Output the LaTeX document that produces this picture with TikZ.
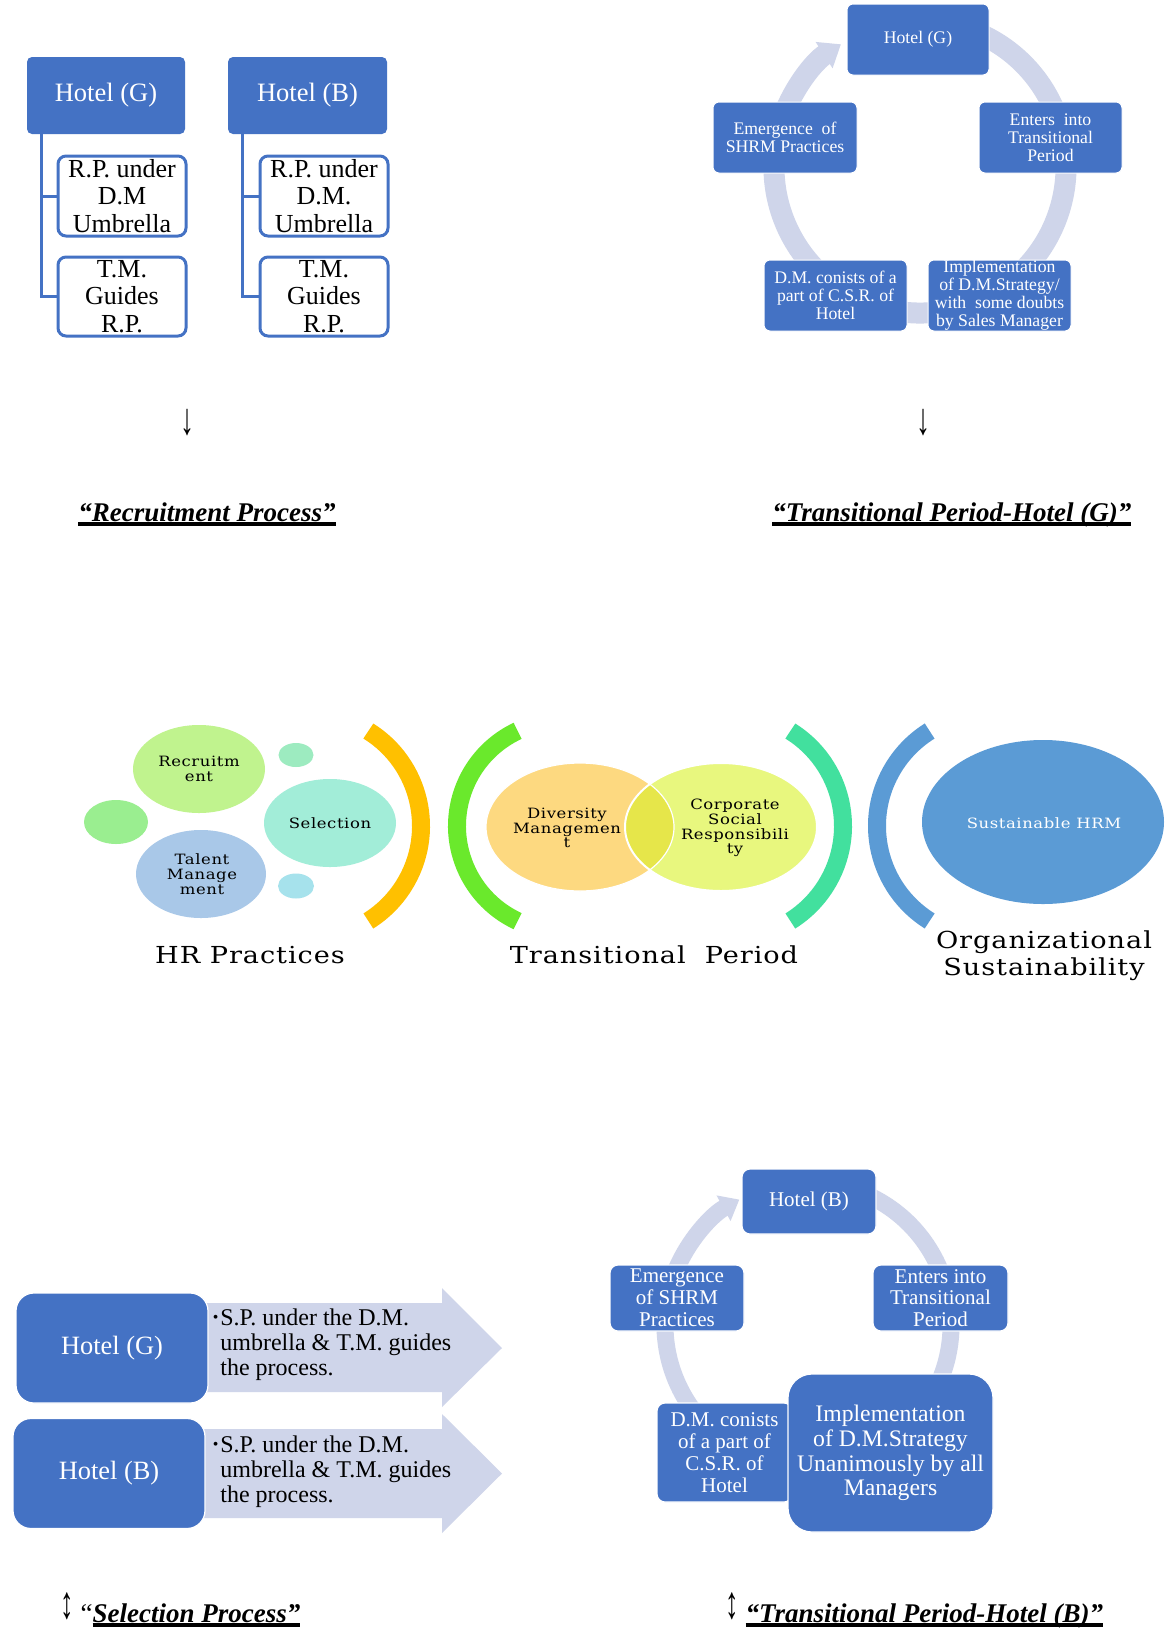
\documentclass[tikz,border=0pt]{standalone}
\usepackage{fontspec}
\setmainfont{Liberation Serif}
\newfontfamily\dvs[FakeStretch=1.16, LetterSpace=4]{DejaVu Serif}
\usetikzlibrary{arrows.meta,calc}
\definecolor{hblue}{HTML}{4472C4}
\definecolor{ringc}{HTML}{CFD5EA}
\definecolor{recc}{HTML}{C0F38E}
\definecolor{smtop}{HTML}{9DEBC0}
\definecolor{smleft}{HTML}{9AEE90}
\definecolor{selc}{HTML}{A2EDD8}
\definecolor{talc}{HTML}{A9C8E8}
\definecolor{smbot}{HTML}{A6E2EC}
\definecolor{orangec}{HTML}{FFC000}
\definecolor{greenc}{HTML}{6AE92C}
\definecolor{divc}{HTML}{FDD980}
\definecolor{csrc}{HTML}{E8F77E}
\definecolor{ovc}{HTML}{E6E64A}
\definecolor{tealc}{HTML}{42E09E}
\definecolor{sblue}{HTML}{5B9BD5}
\newcommand\myul[1]{\setbox0\hbox{#1}\rlap{\rule[-2.3pt]{\wd0}{1.75pt}}\box0}
\tikzset{
  hbox/.style={fill=hblue, rounded corners=2.5pt, text=white, inner sep=0pt, align=center},
  subbox/.style={draw=hblue, line width=1.5pt, fill=white, rounded corners=4pt, inner sep=0pt, align=center,
     minimum width=64pt, font=\fontsize{13pt}{13.75pt}\selectfont},
  cboxg/.style={fill=hblue, draw=white, line width=0.5pt, rounded corners=3pt, text=white, inner sep=0pt,
     align=center, font=\fontsize{8.85pt}{9pt}\selectfont},
  cboxb/.style={fill=hblue, draw=white, line width=0.6pt, rounded corners=4pt, text=white, inner sep=0pt,
     align=center, font=\fontsize{10.5pt}{10.9pt}\selectfont},
  selbox/.style={fill=hblue, draw=white, line width=0.6pt, rounded corners=9pt, text=white, inner sep=0pt,
     minimum width=96pt, minimum height=55pt, font=\fontsize{13.2pt}{14pt}\selectfont},
  seltxt/.style={anchor=north west, align=left, inner sep=0pt, font=\fontsize{12pt}{12.5pt}\selectfont},
  mtxt/.style={align=center, inner sep=0pt, font=\dvs\fontsize{7.1pt}{7.4pt}\selectfont},
  btxt/.style={align=center, inner sep=0pt, font=\dvs\fontsize{11.7pt}{13.5pt}\selectfont},
  lbl/.style={inner sep=0pt, font=\fontsize{13.5pt}{14pt}\selectfont\bfseries\itshape},
  bracket/.style={line width=9pt},
  conn/.style={draw=hblue, line width=1.5pt},
}
\begin{document}
\begin{tikzpicture}[x=0.5pt,y=-0.5pt]
\useasboundingbox (0,0) rectangle (1165,1629);
\fill[white] (0,0) rectangle (1165,1629);

% ---------- Recruitment process (top left)
\node[hbox, minimum width=79pt, minimum height=38.5pt, font=\fontsize{13.25pt}{14pt}\selectfont] (hg) at (106,95.5) {Hotel (G)};
\node[hbox, minimum width=79.5pt, minimum height=38.5pt, font=\fontsize{13.25pt}{14pt}\selectfont] (hb) at (307.5,95.5) {Hotel (B)};
\node[subbox, minimum height=40pt] (rpg) at (122,196) {R.P. under\\D.M\\Umbrella};
\node[subbox, minimum height=39.5pt] (tmg) at (122,296.5) {T.M.\\Guides\\R.P.};
\node[subbox, minimum height=40pt] (rpb) at (324,196) {R.P. under\\D.M.\\Umbrella};
\node[subbox, minimum height=39.5pt] (tmb) at (324,296.5) {T.M.\\Guides\\R.P.};
\draw[conn] ($(hg.south west)+(15,0)$) |- (rpg.west);
\draw[conn] ($(hg.south west)+(15,0)$) |- (tmg.west);
\draw[conn] ($(hb.south west)+(15,0)$) |- (rpb.west);
\draw[conn] ($(hb.south west)+(15,0)$) |- (tmb.west);

% ---------- Transitional period Hotel (G) (top right)
\draw[ringc, line width=10.5pt, -{Triangle[width=15pt,length=10pt]}]
  (920,167) ++(-70:146) arc[start angle=-70, end angle=237.2, radius=146];
\node[cboxg, minimum width=71pt, minimum height=35.5pt] (cg) at (918,39.5) {Hotel (G)};
\node[cboxg, minimum width=72pt, minimum height=35.5pt] (ce) at (785,137.5) {Emergence\ \ of\\SHRM Practices};
\node[cboxg, minimum width=71.5pt, minimum height=35.5pt] (ct) at (1050.5,137.5) {Enters\ \ into\\Transitional\\Period};
\node[cboxg, minimum width=71.5pt, minimum height=35.5pt] (cd) at (835.5,295.5) {D.M. conists of a\\part of C.S.R. of\\Hotel};
\node[cboxg, minimum width=71.5pt, minimum height=35.5pt] (ci) at (999.5,295.5) {Implementation\\of D.M.Strategy/\\with\ \ some doubts\\by Sales Manager};

% ---------- arrows and labels
\node[inner sep=0pt, font=\fontsize{14pt}{14pt}\selectfont] (ar1) at (187,423) {\scalebox{1}[1.6]{↓}};
\node[inner sep=0pt, font=\fontsize{14pt}{14pt}\selectfont] (ar2) at (923,423) {\scalebox{1}[1.6]{↓}};
\node[lbl, anchor=base west] (lrp) at (78,521) {\myul{“Recruitment Process”}};
\node[lbl, anchor=base west] (ltg) at (772,521) {\myul{“Transitional Period-Hotel (G)”}};

% ---------- HR practices (middle)
\fill[recc] (199,769) ellipse[x radius=66, y radius=44];
\fill[smtop] (296,755) ellipse[x radius=17.5, y radius=12];
\fill[smleft] (116,822) ellipse[x radius=32, y radius=22];
\fill[selc] (330,823) ellipse[x radius=66, y radius=44];
\fill[talc] (201,874) ellipse[x radius=65, y radius=44];
\fill[smbot] (296,886) ellipse[x radius=18, y radius=12.5];
\node[mtxt] (trec) at (199,769) {Recruitm\\ent};
\node[mtxt] (tsel) at (330,823) {Selection};
\node[mtxt] (ttal) at (202,874) {Talent\\Manage\\ment};
\draw[bracket, orangec] (309,826) ++(-58:112) arc[start angle=-58, end angle=58, radius=112];
\draw[bracket, greenc] (562,826) ++(115:105) arc[start angle=115, end angle=245, radius=105];
\draw[bracket, tealc] (731,826) ++(-58:112) arc[start angle=-58, end angle=58, radius=112];
\draw[bracket, sblue] (989,826) ++(122:112) arc[start angle=122, end angle=238, radius=112];

\fill[divc] (580,827) ellipse[x radius=94, y radius=64];
\fill[csrc] (721,827) ellipse[x radius=96, y radius=64];
\begin{scope}
  \clip (580,827) ellipse[x radius=94, y radius=64];
  \fill[ovc] (721,827) ellipse[x radius=96, y radius=64];
\end{scope}
\draw[white, line width=1pt] (721,827) ellipse[x radius=96, y radius=64];
\draw[white, line width=0.6pt] (580,827) ellipse[x radius=94, y radius=64];
\node[mtxt] (tdiv) at (567,828) {Diversity\\Managemen\\t};
\node[mtxt] (tcsr) at (735,828) {Corporate\\Social\\Responsibili\\ty};

\fill[sblue] (1043,822) ellipse[x radius=121, y radius=82];
\node[mtxt, text=white] (tshr) at (1044,823) {Sustainable HRM};

\node[btxt, anchor=base] (lhr) at (250,963) {HR Practices};
\node[btxt, anchor=base] (ltp) at (654,963) {Transitional\ \ Period};
\node[btxt] (los) at (1044,956) {Organizational\\Sustainability};

% ---------- Selection process (bottom left)
\fill[ringc] (195,1303) -- (442,1303) -- (442,1288) -- (502,1348) -- (442,1407) -- (442,1392) -- (195,1392) -- cycle;
\fill[ringc] (195,1429) -- (442,1429) -- (442,1414) -- (502,1473.5) -- (442,1533) -- (442,1518) -- (195,1518) -- cycle;
\node[selbox] (sg) at (112,1348) {Hotel (G)};
\node[selbox] (sb) at (109,1473.5) {Hotel (B)};
\node[seltxt] (stg) at (220,1308.8) {\llap{{\fontsize{8pt}{8pt}\selectfont\raisebox{1.5pt}{•}}\hspace{1pt}}S.P. under the D.M.\\umbrella \& T.M. guides\\the process.};
\node[seltxt] (stb) at (220,1435.8) {\llap{{\fontsize{8pt}{8pt}\selectfont\raisebox{1.5pt}{•}}\hspace{1pt}}S.P. under the D.M.\\umbrella \& T.M. guides\\the process.};

% ---------- Transitional period Hotel (B) (bottom right)
\draw[ringc, line width=8.5pt, -{Triangle[width=14pt,length=9pt]}]
  (808,1325) ++(-65:143) arc[start angle=-65, end angle=241.3, radius=143];
\node[cboxb, minimum width=67pt, minimum height=32.5pt] (bh) at (809,1201.5) {Hotel (B)};
\node[cboxb, minimum width=67pt, minimum height=33pt] (be) at (677,1298) {Emergence\\of SHRM\\Practices};
\node[cboxb, minimum width=67.5pt, minimum height=33pt] (bt) at (940.5,1298) {Enters into\\Transitional\\Period};
\node[cboxb, minimum width=67.5pt, minimum height=49.5pt] (bd) at (724.5,1452.5) {D.M. conists\\of a part of\\C.S.R. of\\Hotel};
\node[cboxb, rounded corners=12pt, minimum width=102.5pt, minimum height=79pt, font=\fontsize{11.85pt}{12.35pt}\selectfont] (bi) at (890.5,1453) {Implementation\\of D.M.Strategy\\Unanimously by all\\Managers};

% ---------- bottom labels
\node[inner sep=0pt, anchor=base west, font=\fontsize{13.5pt}{14pt}\selectfont] (lsp) at (60,1622) {\raisebox{2pt}{\scalebox{1}[1.7]{↕}} “\myul{\bfseries\itshape Selection Process”}};
\node[inner sep=0pt, anchor=base west, font=\fontsize{13.5pt}{14pt}\selectfont] (ltb) at (725,1622) {\raisebox{2pt}{\scalebox{1}[1.7]{↕}} \myul{\bfseries\itshape “Transitional Period-Hotel (B)”}};
\end{tikzpicture}
\end{document}
